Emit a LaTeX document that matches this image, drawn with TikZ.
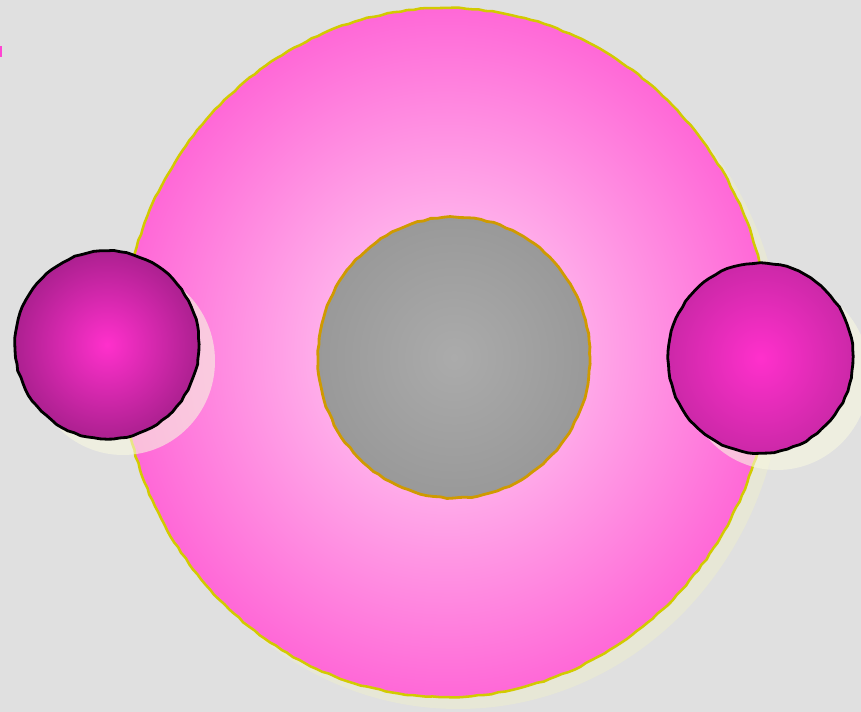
\documentclass[tikz,border=0pt]{standalone}
\usetikzlibrary{decorations.pathmorphing}
\definecolor{bgc}{HTML}{E0E0E0}
\definecolor{bigshadow}{HTML}{E7E7D6}
\definecolor{smallshadow}{HTML}{F8F8E0}
\definecolor{pinkin}{HTML}{FFDAF6}
\definecolor{pinkout}{HTML}{FF68D7}
\definecolor{yellowline}{HTML}{D2CA00}
\definecolor{grayin}{HTML}{ABABAB}
\definecolor{grayout}{HTML}{999999}
\definecolor{orangeline}{HTML}{CF9A00}
\definecolor{ballin}{HTML}{FF30CC}
\definecolor{balloutL}{HTML}{AC2090}
\definecolor{balloutR}{HTML}{CC28A8}
\definecolor{markc}{HTML}{FF44D2}
\begin{document}
\begin{tikzpicture}[x=0.75pt,y=-0.75pt,
  wobble/.style={decorate,decoration={random steps,segment length=5pt,amplitude=0.45pt}},
  shadowfill/.style={fill=smallshadow,fill opacity=0.6,draw=none},
  ballline/.style={draw=black,line width=2.1pt}]
\pgfmathsetseed{7}
% background
\fill[bgc] (0,0) rectangle (861,712);
\useasboundingbox (0,0) rectangle (861,712);
% big ellipse shadow
\fill[bigshadow] (458,364.5) ellipse [x radius=325, y radius=344.5];
% big pink ellipse
\shade[inner color=pinkin, outer color=pinkout, draw=yellowline, line width=1.9pt, wobble]
  (446,352.5) ellipse [x radius=325, y radius=344.5];
% gray nucleus
\shade[inner color=grayin, outer color=grayout, draw=orangeline, line width=2.1pt, wobble]
  (454,357.5) ellipse [x radius=136, y radius=140.5];
% small circle shadows
\fill[shadowfill] (123,361) ellipse [x radius=92, y radius=94];
\fill[shadowfill] (777,375) ellipse [x radius=92.5, y radius=95];
% left ball
\shade[inner color=ballin, outer color=balloutL, ballline, wobble]
  (107,345) ellipse [x radius=92, y radius=94];
% right ball
\shade[inner color=ballin, outer color=balloutR, ballline, wobble]
  (760.5,358) ellipse [x radius=92.5, y radius=95];
% small mark at the left edge
\fill[markc] (0,46) rectangle (1.6,57);
\end{tikzpicture}
\end{document}
